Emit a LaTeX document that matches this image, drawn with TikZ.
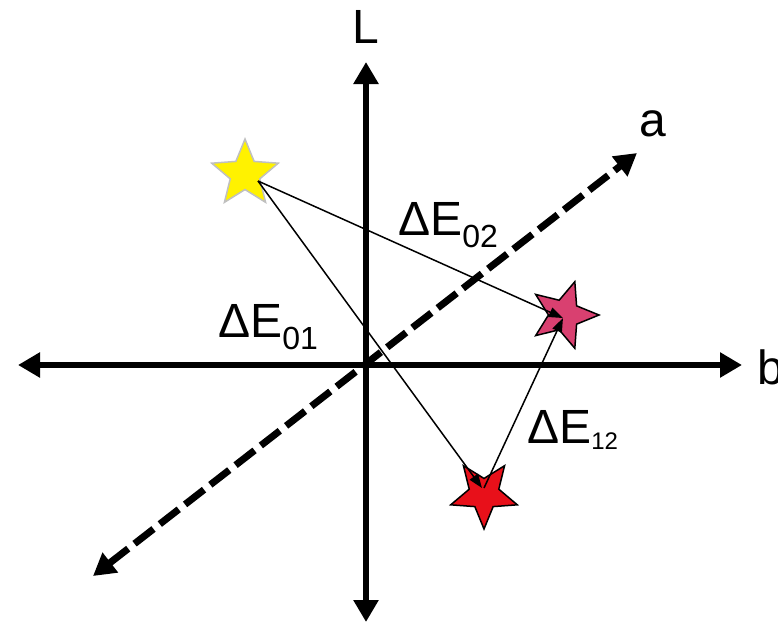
\documentclass[tikz,border=0pt]{standalone}
\usepackage{fontspec}
\setmainfont{Liberation Sans}
\usetikzlibrary{arrows.meta,shapes.geometric}
\definecolor{starpink}{RGB}{217,64,112}
\definecolor{starred}{RGB}{232,16,26}
\definecolor{stargray}{RGB}{192,192,192}
\tikzset{
  axis/.style={line width=6pt,-{Triangle[length=22pt,width=24pt]}},
  daxis/.style={line width=7pt,dash pattern=on 24pt off 8pt,{Triangle[length=22pt,width=24pt]}-{Triangle[length=22pt,width=24pt]}},
  conn/.style={line width=1.5pt,-{Triangle[length=14pt,width=10pt]}},
  starbox/.style={star,star points=5,star point ratio=2.25,inner sep=0pt,minimum size=70pt,line width=1.5pt},
  lbl/.style={font=\fontsize{48}{48}\selectfont,inner sep=0pt}
}
\begin{document}
\begin{tikzpicture}[x=1pt,y=-1pt]
\useasboundingbox (0,0) rectangle (778,624);
% axes
\coordinate (o) at (366,365);
\coordinate (lft) at (18,365);
\coordinate (rgt) at (742,365);
\coordinate (top) at (366,62);
\coordinate (bot) at (366,622);
\coordinate (aa) at (637,153);
\coordinate (ab) at (93,576);
\draw[axis] (o) -- (rgt);
\draw[axis] (o) -- (lft);
\draw[axis] (o) -- (top);
\draw[axis] (o) -- (bot);
\draw[daxis] (ab) -- (aa);
\node[lbl] (labL) at (366,27) {L};
\node[lbl,anchor=west] (labb) at (757,367) {b};
\node[lbl] (laba) at (653,124) {a};
% stars
\node[starbox,draw=stargray,fill=yellow] (ys) at (245,174) {};
\node[starbox,draw=black,fill=starpink,shape border rotate=-90] (ps) at (564,315) {};
\node[starbox,draw=black,fill=starred,shape border rotate=180] (rs) at (484,494) {};
% connector ends
\coordinate (y0) at (258,181);
\coordinate (p0) at (563,318);
\coordinate (r0) at (482,488);
\coordinate (r1) at (484,488);
\draw[conn] (y0) -- (p0);
\draw[conn] (y0) -- (r0);
\draw[conn] (r1) -- (p0);
% labels
\node[lbl,anchor=base west] (e02) at (398,235) {ΔE\raisebox{-12pt}{\fontsize{32}{32}\selectfont 02}};
\node[lbl,anchor=base west] (e01) at (218,337) {ΔE\raisebox{-12pt}{\fontsize{32}{32}\selectfont 01}};
\node[lbl,anchor=base west] (e12) at (527,443) {ΔE\raisebox{-6pt}{\fontsize{24}{24}\selectfont 12}};
\end{tikzpicture}
\end{document}
